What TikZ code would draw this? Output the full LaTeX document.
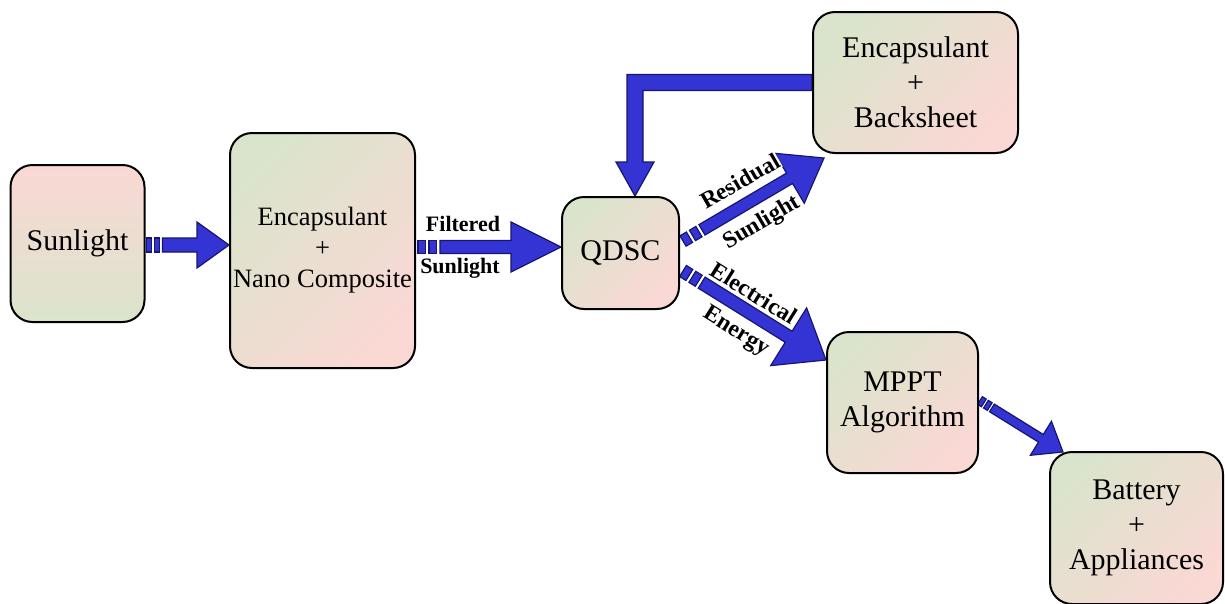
\documentclass[tikz,border=0pt]{standalone}
\usepackage{fontspec}
\setmainfont{Liberation Serif}
\usetikzlibrary{calc,backgrounds}
\definecolor{bgreen}{RGB}{218,228,204}
\definecolor{bpink}{RGB}{250,216,212}
\definecolor{abluefill}{RGB}{52,52,212}
\definecolor{ablueline}{RGB}{22,22,110}
\tikzset{
 box/.style={draw=black, line width=2pt, rounded corners=22pt, top color=bgreen, bottom color=bpink, shading angle=45, align=center, inner sep=0pt, font=\fontsize{30}{35}\selectfont},
 arr/.style={fill=abluefill, draw=ablueline, line width=1.2pt, line join=miter},
 lbl/.style={font=\fontsize{22}{24}\selectfont\bfseries, inner sep=0pt},
 rlbl/.style={font=\fontsize{23.5}{25}\selectfont\bfseries, inner sep=0.5pt, fill=white},
}
% #1 start, #2 tip, #3 shaft half width, #4 head half width, #5 head length, #6 square length, #7 gap
\newcommand\blockarrow[7]{%
 \path let \p1=(#1), \p2=(#2), \n1={atan2(\y2-\y1,\x2-\x1)}, \n2={veclen(\x2-\x1,\y2-\y1)} in
   \pgfextra{\xdef\baang{\n1}\xdef\balen{\n2}};
 \begin{scope}[shift={(#1)}, rotate=\baang, x=1pt, y=1pt]
  \filldraw[arr] (0,-#3) rectangle (#6,#3);
  \filldraw[arr] (#6+#7,-#3) rectangle (2*#6+#7,#3);
  \filldraw[arr] (2*#6+2*#7,-#3) -- (\balen-#5,-#3) -- (\balen-#5,-#4) -- (\balen,0)
     -- (\balen-#5,#4) -- (\balen-#5,#3) -- (2*#6+2*#7,#3) -- cycle;
 \end{scope}%
}
\begin{document}
\begin{tikzpicture}[x=1pt,y=-1pt]
\useasboundingbox (0,0) rectangle (1225,603);
\node[box, minimum width=134pt, minimum height=157pt, top color=bpink, bottom color=bgreen] (sun) at (77.5,243.5) {Sunlight};
\node[box, minimum width=185pt, minimum height=235pt, font=\fontsize{26.5}{31}\selectfont] (enc) at (322.5,250.5) {Encapsulant\\+\\Nano Composite};
\node[box, minimum width=117pt, minimum height=112pt] (qdsc) at (620.5,253) {QDSC};
\node[box, minimum width=205pt, minimum height=141pt] (back) at (915.5,82.5) {Encapsulant\\+\\Backsheet};
\node[box, minimum width=151pt, minimum height=141pt] (mppt) at (902.5,402.5) {MPPT\\Algorithm};
\node[box, minimum width=173pt, minimum height=152pt] (batt) at (1136.5,528) {Battery\\+\\Appliances};

\coordinate (s1) at ($(sun.east)+(1,1.5)$);
\coordinate (t1) at (s1 -| enc.west);
\coordinate (t2) at ($(qdsc.west)+(0,-6)$);
\coordinate (s2) at ($(t2 -| enc.east)+(2,0)$);
\coordinate (s3) at ($(qdsc.east)+(3,-12)$);
\coordinate (t3) at ($(back.south west)+(12,4)$);
\coordinate (s4) at ($(qdsc.east)+(3,18)$);
\coordinate (t4) at ($(mppt.north west)+(0,29)$);
\coordinate (s5) at ($(mppt.east)+(1,-2)$);
\coordinate (t5) at ($(batt.north west)+(14,1)$);
\coordinate (fbT) at ($(qdsc.north)+(14.5,0)$);

\begin{scope}[on background layer]
\blockarrow{s1}{t1}{7}{23}{32}{5}{3}
\blockarrow{s2}{t2}{6.5}{25}{50}{7.5}{3.5}
\blockarrow{s3}{t3}{6}{29}{40}{7.5}{3.5}
\blockarrow{s4}{t4}{6.5}{34}{44}{7.5}{3.5}
\blockarrow{s5}{t5}{4.5}{20}{26}{4.5}{2.5}
\filldraw[arr] ($(back.west)+(0,-8)$) -- ($(fbT |- back.west)+(-8,-8)$) -- ($(fbT)+(-8,-34)$)
  -- ($(fbT)+(-19,-34)$) -- (fbT) -- ($(fbT)+(19,-34)$) -- ($(fbT)+(8,-34)$)
  -- ($(fbT |- back.west)+(8,8)$) -- ($(back.west)+(0,8)$) -- cycle;
\end{scope}

\node[lbl] (lf1) at (463,224) {Filtered};
\node[lbl] (lf2) at (460,268) {Sunlight};
\node[rlbl, rotate=30] (lr1) at (740,181) {Residual};
\node[rlbl, rotate=30.5] (lr2) at (762,223) {Sunlight};
\node[rlbl, rotate=-32] (le1) at (754,293) {Electrical};
\node[rlbl, rotate=-32] (le2) at (736,332) {Energy};
\end{tikzpicture}
\end{document}
